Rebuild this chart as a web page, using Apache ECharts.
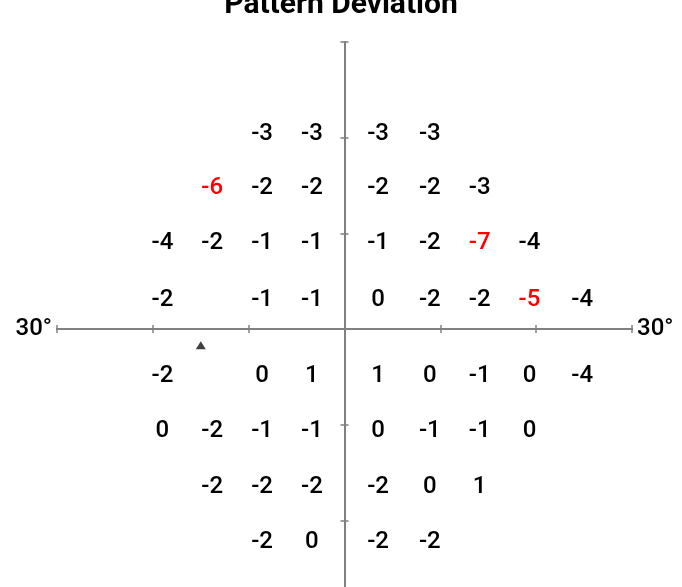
<!DOCTYPE html>
<html>
<head>
<meta charset="utf-8">
<script src="https://cdn.jsdelivr.net/npm/echarts@6/dist/echarts.min.js"></script>
<style>
html, body { margin: 0; padding: 0; background: #fff; }
#myChart { width: 682px; height: 587px; }
</style>
</head>
<body>
<div id="myChart"></div>
<script>
// column / row positions (degrees) of the printed values
var colX = [-19, -13.8, -8.6, -3.4, 3.5, 8.9, 14.1, 19.3, 24.8];
var rowY = [20.4, 14.7, 9.0, 3.0, -4.9, -10.7, -16.5, -22.3];

// pattern deviation values, one list per row, null = no test point
var row1 = [null, null, -3, -3, -3, -3, null, null, null];
var row2 = [null, -6, -2, -2, -2, -2, -3, null, null];
var row3 = [-4, -2, -1, -1, -1, -2, -7, -4, null];
var row4 = [-2, null, -1, -1, 0, -2, -2, -5, -4];
var row5 = [-2, null, 0, 1, 1, 0, -1, 0, -4];
var row6 = [0, -2, -1, -1, 0, -1, -1, 0, null];
var row7 = [null, -2, -2, -2, -2, 0, 1, null, null];
var row8 = [null, null, -2, 0, -2, -2, null, null, null];
var rows = [row1, row2, row3, row4, row5, row6, row7, row8];

var blindSpot = [[-15, -1.7]];
var axisMin = -30, axisMax = 30, axisStep = 10;
var axisName = '30°';
var redLimit = -5;

var myChart = echarts.init(document.getElementById('myChart'));
var axisGray = '#808080';

var points = [];
rows.forEach(function (row, r) {
    row.forEach(function (v, c) {
        if (v === null) return;
        points.push({
            value: [colX[c], rowY[r], v],
            label: { color: v <= redLimit ? '#ff0000' : '#000000' }
        });
    });
});

function makeAxis(position, name, nameLocation) {
    return {
        type: 'value',
        position: position,
        min: axisMin,
        max: axisMax,
        interval: axisStep,
        axisLine: { show: true, onZero: true, lineStyle: { color: axisGray, width: 2 } },
        axisTick: { show: true, length: 4, lineStyle: { color: axisGray, width: 1.5 } },
        axisLabel: { show: false },
        splitLine: { show: false },
        name: name,
        nameLocation: nameLocation,
        nameGap: 5,
        nameTextStyle: { color: '#000', fontSize: 24, fontWeight: 500, fontFamily: 'Roboto' }
    };
}

myChart.setOption({
    animation: false,
    title: {
        text: 'Pattern Deviation',
        left: 'center',
        top: -10,
        padding: 0,
        textStyle: { fontSize: 30, fontWeight: 'bold', fontFamily: 'Roboto', color: '#000' }
    },
    grid: {
        left: 57,
        top: 42,
        width: 575,
        height: 574,
        containLabel: false,
        outerBoundsMode: 'none'
    },
    xAxis: [
        makeAxis('bottom', axisName, 'start'),
        makeAxis('top', axisName, 'end')
    ],
    yAxis: [
        makeAxis('left', '', 'end'),
        makeAxis('right', '', 'end')
    ],
    series: [{
        type: 'scatter',
        silent: true,
        symbolSize: 1,
        itemStyle: { color: 'rgba(255,255,255,0)' },
        label: {
            show: true,
            position: 'inside',
            fontSize: 24,
            fontWeight: 500,
            fontFamily: 'Roboto',
            textBorderWidth: 0,
            textBorderColor: 'transparent',
            opacity: 1,
            formatter: function (p) { return String(p.value[2]); }
        },
        data: points
    }, {
        type: 'scatter',
        silent: true,
        symbol: 'triangle',
        symbolSize: [10, 8],
        itemStyle: { color: '#111' },
        data: blindSpot
    }]
});

window.onresize = function () {
    myChart.resize();
};
</script>
</body>
</html>
